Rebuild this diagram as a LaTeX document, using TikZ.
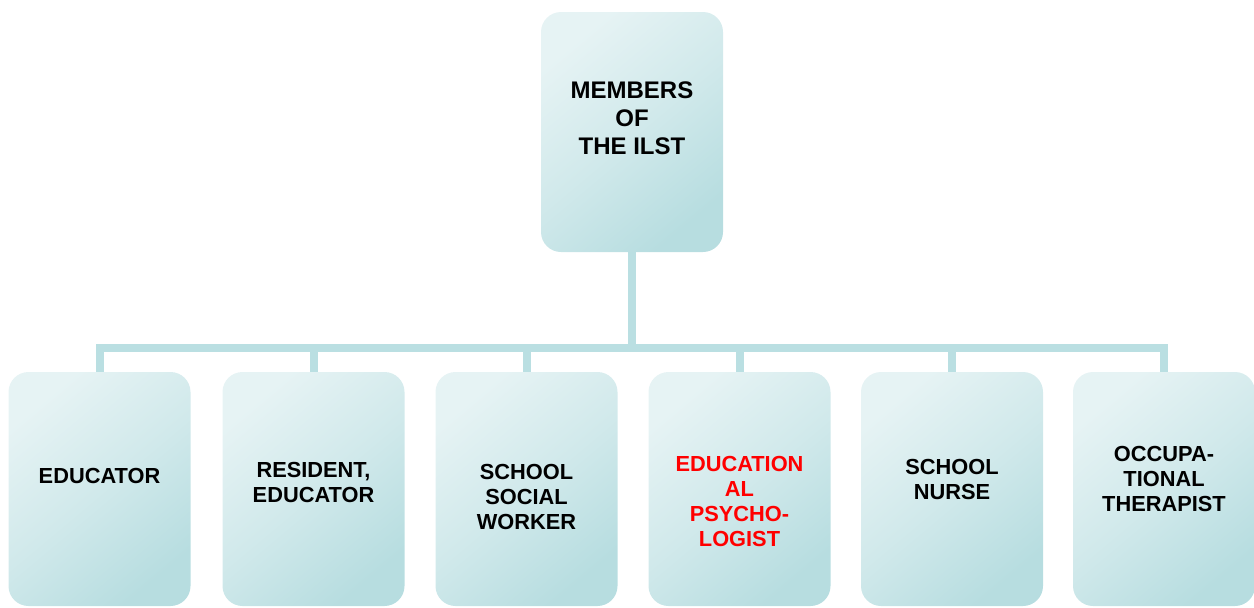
\documentclass[tikz,border=0pt]{standalone}
\usepackage{fontspec}
\setmainfont{Liberation Sans}
\definecolor{boxlight}{HTML}{E6F3F4}
\definecolor{boxdark}{HTML}{B7DDE0}
\definecolor{linkcol}{HTML}{BADFE2}
\definecolor{redtext}{HTML}{FF0000}
\begin{document}
\begin{tikzpicture}[x=1pt,y=-1pt,
  card/.style={rounded corners=20pt, top color=boxlight, bottom color=boxdark,
    middle color=boxlight!55!boxdark, shading angle=40, draw=none,
    minimum width=182pt, inner sep=0pt},
  headcard/.style={card, minimum height=240pt},
  membercard/.style={card, minimum height=234pt},
  headtext/.style={align=center, inner sep=0pt, font=\bfseries\fontsize{24}{28}\selectfont},
  membertext/.style={align=center, inner sep=0pt, font=\bfseries\fontsize{21.8}{25}\selectfont},
  link/.style={draw=linkcol, line width=8pt}
]
\useasboundingbox (0,0) rectangle (1254,608);

% head of the tree
\node[headcard] (head) at (632,132) {};
\node[headtext] (headlabel) at (632,118) {MEMBERS\\OF\\THE ILST};

% the six members
\node[membercard] (m1) at (99.5,489)  {};
\node[membercard] (m2) at (313.5,489) {};
\node[membercard] (m3) at (526.5,489) {};
\node[membercard] (m4) at (739.5,489) {};
\node[membercard] (m5) at (952,489)   {};
\node[membercard] (m6) at (1164,489)  {};

\node[membertext] (t1) at (99.5,476)  {EDUCATOR};
\node[membertext] (t2) at (313.5,482.5) {RESIDENT,\\EDUCATOR};
\node[membertext] (t3) at (526.5,497) {SCHOOL\\SOCIAL\\WORKER};
\node[membertext, text=redtext] (t4) at (739.5,501.5) {EDUCATION\\AL\\PSYCHO-\\LOGIST};
\node[membertext] (t5) at (952,479)   {SCHOOL\\NURSE};
\node[membertext] (t6) at (1164,479)  {OCCUPA-\\TIONAL\\THERAPIST};

% connectors: trunk, bus and drops
\coordinate (bus) at (632,348);
\draw[link] (head.south) -- (bus);
\draw[link, line cap=rect] (m1.north |- bus) -- (m6.north |- bus);
\foreach \m in {m1,m2,m3,m4,m5,m6}
  \draw[link] (\m.north |- bus) -- (\m.north);
\end{tikzpicture}
\end{document}
